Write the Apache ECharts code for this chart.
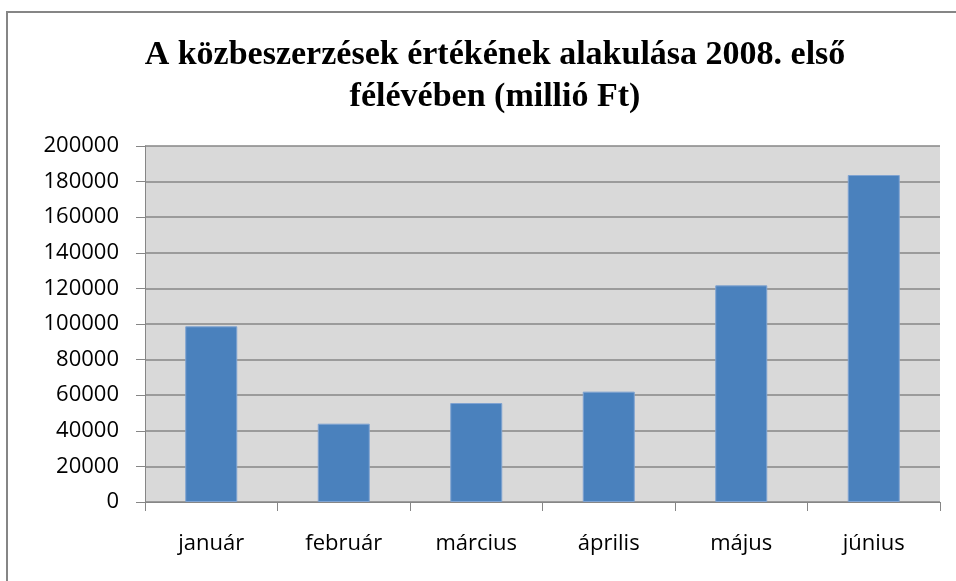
<!DOCTYPE html>
<html>
<head>
<meta charset="utf-8">
<script src="https://cdn.jsdelivr.net/npm/echarts@6/dist/echarts.min.js"></script>
<style>
  html, body { margin: 0; padding: 0; background: #fff; }
  #chart { width: 956px; height: 581px; }
</style>
</head>
<body>
<div id="chart"></div>
<script>
// havi adatok (millió Ft)
var months = ["január", "február", "március", "április", "május", "június"];
var values = [98700, 44000, 55600, 62000, 121700, 183700];
var titleLines = ["A közbeszerzések értékének alakulása 2008. első", "félévében (millió Ft)"];

var chart = echarts.init(document.getElementById("chart"));
chart.setOption({
  animation: false,
  title: {
    text: titleLines.join("\n"),
    left: 490,
    top: 29,
    textAlign: "center",
    textStyle: {
      fontFamily: "Liberation Serif",
      fontWeight: "bold",
      fontSize: 34,
      lineHeight: 42,
      color: "#000",
    },
  },
  graphic: [
    {
      type: "rect",
      shape: { x: 7, y: 12, width: 980, height: 600 },
      style: { fill: "none", stroke: "#868686", lineWidth: 2 },
      silent: true,
    },
  ],
  grid: {
    left: 145,
    right: 16,
    top: 146,
    bottom: 79,
    show: true,
    backgroundColor: "#d9d9d9",
    borderWidth: 0,
  },
  xAxis: {
    type: "category",
    data: months,
    axisLine: { lineStyle: { color: "#868686", width: 1 } },
    axisTick: { show: true, length: 9, alignWithLabel: false, lineStyle: { color: "#868686" } },
    axisLabel: {
      margin: 31,
      fontFamily: "Open Sans",
      fontSize: 22,
      color: "#000",
    },
  },
  yAxis: {
    type: "value",
    min: 0,
    max: 200000,
    interval: 20000,
    axisLine: { show: true, lineStyle: { color: "#868686", width: 1 } },
    axisTick: { show: true, length: 9, lineStyle: { color: "#868686" } },
    splitLine: { lineStyle: { color: "#868686", width: 1.5 } },
    axisLabel: {
      margin: 26,
      fontFamily: "Open Sans",
      fontSize: 22,
      color: "#000",
      formatter: function (v) { return String(v); },
    },
  },
  series: [
    {
      name: "érték",
      type: "bar",
      data: values,
      barWidth: 52,
      itemStyle: {
        color: "#4a81bd",
        borderColor: "#7fa3d1",
        borderWidth: 1,
      },
    },
  ],
});
</script>
</body>
</html>
